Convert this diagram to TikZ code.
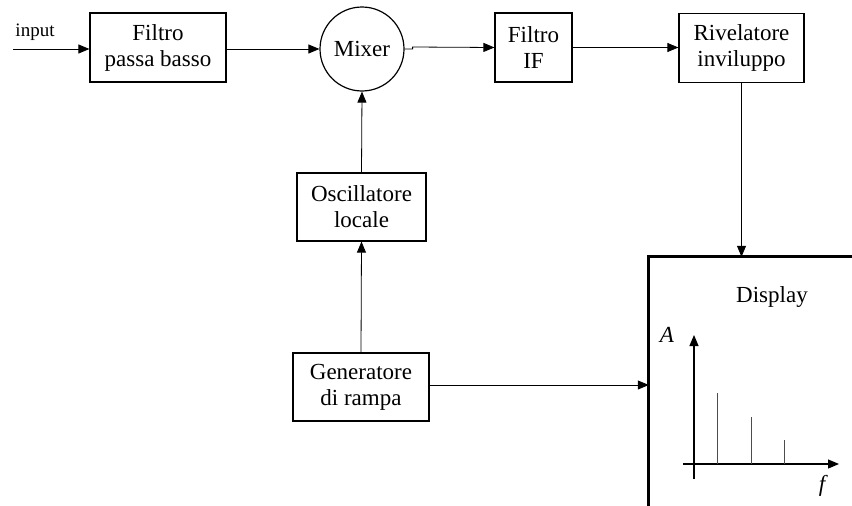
\documentclass[tikz,border=0pt]{standalone}
\usepackage{fontspec}
\setmainfont{Liberation Serif}
\usetikzlibrary{arrows.meta}
\newcommand{\blockh}{69pt}
\newcommand{\axisy}{464}
\newcommand{\axisx}{694}
\tikzset{
  block/.style={draw,line width=1.2pt,inner sep=0pt,minimum height=\blockh,
    align=center,font=\fontsize{23}{26}\selectfont},
  link/.style={line width=0.8pt,-{Triangle[length=11pt,width=9pt]}},
  spec/.style={line width=0.8pt,draw=black!70}
}
\begin{document}
\begin{tikzpicture}[x=1pt,y=-1pt,font=\fontsize{23}{26}\selectfont]
  \useasboundingbox (0,0) rectangle (852,506);
  % top chain
  \node[block,minimum width=136pt] (lpf) at (158,47.5) {Filtro\\passa basso};
  \node[draw,circle,line width=1.2pt,minimum size=84pt,inner sep=0pt] (mixer) at (362,49) {Mixer};
  \node[block,minimum width=77pt] (iff) at (533.5,47.5) {Filtro\\IF};
  \node[block,minimum width=125pt] (env) at (741.5,48) {Rivelatore\\inviluppo};
  % lower chain
  \node[block,minimum width=129pt,minimum height=68pt] (osc) at (361.5,207) {Oscillatore\\locale};
  \node[block,minimum width=136pt,minimum height=68pt] (ramp) at (361,387) {Generatore\\di rampa};
  % display
  \node[inner sep=0pt,minimum width=203pt,minimum height=249pt] (display) at (750.5,381.5) {};
  \draw[line width=3pt] (display.south west) -- (display.north west) -- (display.north east);
  \node (disptext) at (772,297) {Display};
  % input
  \coordinate (in) at (13,49);
  \node[font=\fontsize{19}{22}\selectfont] (inlabel) at (35,32) {input};
  \draw[link] (in) -- (lpf.west |- in);
  \draw[link] (lpf.east |- mixer) -- (mixer.west);
  \draw[link] (mixer.east) -- ++(8,0) -- ++(0,-2) -- (iff.west);
  \draw[link] (iff.east) -- (env.west |- iff.east);
  \draw[link] (env.south) -- (display.north -| env.south);
  \draw[link] (osc.north) -- (mixer.south);
  \draw[link] (ramp.north) -- (osc.south);
  \draw[link] ([yshift=2pt]ramp.east) -- ([yshift=2pt]ramp.east -| display.west);
  % spectrum
  \coordinate (yfoot) at (\axisx,479);
  \coordinate (ytop) at (\axisx,335);
  \coordinate (xstart) at (683,\axisy);
  \coordinate (xend) at (839,\axisy);
  \draw[line width=1.2pt,-{Triangle[length=11pt,width=9pt]}] (yfoot) -- (ytop);
  \draw[line width=1.2pt,-{Triangle[length=11pt,width=9pt]}] (xstart) -- (xend);
  \node[font=\itshape\fontsize{23}{26}\selectfont] (alabel) at (667,335) {A};
  \node[font=\itshape\fontsize{23}{26}\selectfont] (flabel) at (822,486) {f};
  \foreach \sx/\sy in {717/393,751/417,784/440}
    \draw[spec] (\sx,\axisy) -- (\sx,\sy);
\end{tikzpicture}
\end{document}
